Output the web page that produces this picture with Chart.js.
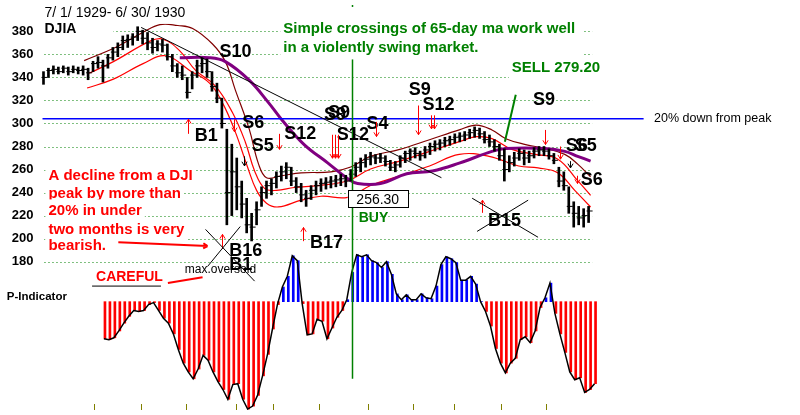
<!DOCTYPE html>
<html>
<head>
  <title>DJIA 1929-1930 Peerless</title>
  <script src="https://cdn.jsdelivr.net/npm/chart.js"></script>
  <style>
    body { margin: 0; background: #fff; }
    #wrap { width: 800px; height: 415px; }
  </style>
</head>
<body>
  <div id="wrap"><canvas id="myChart"></canvas></div>
  <script>
    // one bar every ~2 trading days, 7/1/1929 (index 0) .. 6/30/1930 (index 110)
    const highs = [345,348,350,349,350,349,350,349,350,348, 354,358,355,360,366,370,376,377,378,384,
                   381,379,374,372,373,369,360,352,350,340, 345,355,357,356,345,335,322,295,282,270,
                   250,235,222,232,245,250,252,258,263,266, 262,253,248,242,246,250,252,253,254,255,
                   256,255,260,266,270,273,275,273,274,272, 268,267,272,276,278,279,276,280,283,285,
                   286,288,289,291,292,293,295,297,296,293, 290,286,282,278,272,275,278,277,276,279,
                   280,280,278,274,262,258,245,232,228,226, 228];
    const lows  = [334,340,343,343,344,342,344,343,342,338, 345,348,336,348,355,358,364,366,368,372,
                   369,364,361,363,362,355,345,340,338,322, 330,340,344,340,328,318,296,212,220,225,
                   218,205,198,212,228,235,238,244,250,252, 246,240,232,228,234,238,241,243,244,245,
                   246,245,250,254,258,262,264,265,266,263, 259,258,262,266,268,270,268,270,273,276,
                   277,280,281,283,284,285,287,288,287,283, 280,276,268,250,258,263,268,264,266,270,
                   272,272,269,265,245,242,222,210,212,210, 214];
    const closes = [340,346,347,345,348,345,347,346,347,344, 352,353,350,357,362,366,372,373,375,380,
                    374,370,366,369,368,358,350,344,342,327, 342,350,352,345,332,322,300,240,258,245,
                    230,212,210,225,240,246,248,254,258,262, 250,245,238,235,242,246,248,249,250,251,
                    252,250,256,262,266,269,271,270,270,267, 262,264,270,274,276,274,272,277,280,282,
                    283,285,286,288,289,290,292,294,291,286, 284,280,272,260,266,270,274,270,272,276,
                    277,276,272,268,250,246,228,222,218,220, 224];

    // envelope lines and 65-day ma: [bar index, price]
    const bandUpper = [[8.0,354.6],[14.5,366.4],[19.9,379.2],[23.3,385.9],[26.9,385.1],[29.9,382.5],
                       [33.9,369.0],[36.5,353.7],[38.5,329.2],[41.3,295.3],[43.2,264.7],[44.8,252.9],
                       [47.8,254.6],[51.8,257.1],[57.8,258.0],[61.8,262.2],[65.8,271.5],[71.7,277.5],
                       [77.7,285.9],[83.7,294.4],[87.1,298.6],[90.3,294.4],[93.1,286.8],[97.1,281.7],
                       [101.0,278.3],[105.0,273.2],[107.6,264.7],[110.2,253.7]];
    const bandMiddle = [[9.0,343.6],[13.9,353.7],[21.3,371.5],[23.9,373.2],[27.3,363.1],[30.5,346.1],
                        [34.5,332.5],[37.9,309.7],[40.5,284.2],[42.4,258.8],[44.4,243.6],[46.8,241.9],
                        [50.4,244.4],[55.2,246.1],[61.2,250.3],[65.8,260.5],[71.7,267.3],[77.7,275.8],
                        [83.7,284.2],[87.1,288.5],[90.3,286.8],[94.3,277.5],[99.0,273.2],[103.6,269.0],
                        [107.6,250.3],[110.2,237.6]];
    const bandLower = [[8.6,330.8],[13.9,338.5],[19.9,352.0],[24.5,358.8],[29.3,346.1],[33.3,335.1],
                       [35.9,318.1],[38.5,292.7],[40.9,263.1],[42.8,241.9],[44.8,230.8],[47.2,227.5],
                       [51.8,233.4],[55.8,236.8],[61.2,235.9],[65.8,246.1],[71.7,254.6],[77.7,263.1],
                       [83.7,273.2],[89.7,271.5],[95.7,263.1],[99.6,261.4],[103.6,257.1],[107.0,241.9],
                       [110.2,227.5]];
    const ma65 = [[27.3,357.1],[33.3,357.1],[36.5,353.7],[41.3,337.6],[45.2,318.1],[47.8,303.7],
                  [52.4,281.7],[57.2,265.6],[61.2,252.0],[63.2,247.8],[67.8,247.8],[73.1,256.3],
                  [78.3,258.8],[83.7,265.6],[90.3,275.8],[93.1,278.3],[101.0,278.3],[105.0,275.8],
                  [107.6,271.5],[110.2,267.3]];
    const trendLine = [[19.5,383.4],[80.1,252.9]];
    const downFromPeak = 304;

    // P-Indicator, bars from index 12 to 111
    const pStart = 12;
    const pIndicator = [-38,-39,-37,-30,-22,-15,-9,-10,-9,-3, -1,-9,-17,-22,-33,-49,-63,-72,-79,-69,
                        -55,-60,-72,-82,-90,-100,-85,-84,-100,-110, -107,-96,-76,-54,-28,-3,15,26,47,42,
                        -2,-34,-33,-18,-20,-38,-27,-16,-9,2, 30,48,46,48,42,40,35,41,28,8,
                        2,7,2,2,8,4,3,16,38,46, 44,40,22,22,26,18,0,-10,-25,-48,
                        -63,-73,-63,-58,-39,-36,-42,-30,-6,4, 19,-12,-33,-52,-72,-80,-78,-93,-90,-84];

    const priceTicks = [380,360,340,320,300,280,260,240,220,200,180];
    const monthTicks = [10,19.5,28.5,38.7,46.2,55.4,65.2,74.3,82.7,92.1,101.2];
    const buyIndex = 62;

    // signal labels [text, index, price]
    const signals = [['S10',35.3,362.2],['B1',30.3,289.3],['S6',39.9,300.3],['S5',41.8,280.0],
                     ['S12',48.4,291.0],['S9',56.4,307.1],['S9',57.2,308.8],['S12',59.0,290.2],
                     ['S4',65.0,299.5],['S9',73.5,329.2],['S12',76.3,315.6],['S9',98.6,320.7],
                     ['S6',105.2,280.0],['S5',107.0,280.8],['S6',108.2,251.2],['B15',89.5,215.6],
                     ['B17',53.6,196.1],['B16',37.3,189.3],['B1',37.3,177.5]];
    // signal arrows [index, tail price, head price, count, colour]
    const arrows = [[28.9,291.0,303.7,1,'#f00'],[38.3,303.7,292.7,1,'#f00'],[47.4,291.0,277.5,1,'#f00'],
                    [58.0,290.2,269.8,3,'#f00'],[66.8,301.4,288.6,1,'#f00'],[75.3,315.6,290.2,1,'#f00'],
                    [78.0,307.1,295.3,2,'#f00'],[101.0,294.4,281.7,1,'#f00'],[104.0,280.0,269.0,1,'#f00'],
                    [52.2,197.8,209.7,1,'#f00'],[88.3,222.4,233.4,1,'#f00'],[35.9,191.0,203.7,1,'#f00'],
                    [40.3,271.5,263.1,1,'#000'],[106.0,267.3,261.4,1,'#000'],[107.4,254.6,247.8,1,'#f00']];

    const FONT = '"Liberation Sans", Arial, sans-serif';
    const notes = [
      {t:'7/ 1/ 1929- 6/ 30/ 1930', i:0, p:396.1, f:'14px', c:'#000', bg:true},
      {t:'DJIA', i:0, p:381.7, f:'bold 14px', c:'#000', bg:true, boxTo:13.9},
      {t:'Simple crossings of 65-day ma work well', i:48.2, p:382.5, f:'bold 15px', c:'#008000', bg:true, boxTo:108.6, padTop:10},
      {t:'in a violently swing market.', i:48.2, p:365.6, f:'bold 15px', c:'#008000', bg:true, boxTo:108.6},
      {t:'SELL 279.20', i:94.3, p:348.6, f:'bold 15px', c:'#008000', bg:true},
      {t:'20% down from peak', i:123.0, p:304.6, f:'12.5px', c:'#000'},
      {t:'A decline from a DJI', i:0.8, p:254.6, f:'bold 15px', c:'#f00', bg:true},
      {t:'peak by more than', i:0.8, p:239.3, f:'bold 15px', c:'#f00', bg:true},
      {t:'20% in under', i:0.8, p:224.1, f:'bold 15px', c:'#f00', bg:true},
      {t:'two months is very', i:0.8, p:208.0, f:'bold 15px', c:'#f00', bg:true},
      {t:'bearish.', i:0.8, p:193.6, f:'bold 15px', c:'#f00', bg:true},
      {t:'CAREFUL', i:10.4, p:166.4, f:'bold 14px', c:'#f00', bg:true},
      {t:'max.oversold', i:28.3, p:173.2, f:'12px', c:'#000'},
      {t:'P-Indicator', i:-7.6, p:149.5, f:'bold 11.5px', c:'#000'},
      {t:'BUY', i:66.4, p:218.1, f:'bold 14px', c:'#008000', align:'center'}
    ];
    // thin annotation lines [i1, p1, i2, p2, colour, width, arrowhead]
    const strokes = [[32.5,208.0,42.4,163.1,'#000',1,false],[39.5,210.5,32.9,175.8,'#000',1,false],
                     [86.3,235.1,99.6,201.2,'#000',1,false],[87.3,206.3,97.6,233.4,'#000',1,false],
                     [92.9,284.2,95.1,324.9,'#008000',2,false],[14.9,196.9,32.9,193.6,'#f00',2,true],
                     [24.9,161.4,31.9,166.4,'#f00',2,false],[9.6,158.8,23.5,158.8,'#000',1,false]];
    const buyBox = {t:'256.30', i1:61.2, i2:73.3, p1:241.9, p2:227.5};

    function arrowLine(ctx, x1, y1, x2, y2, color, w, head) {
      ctx.strokeStyle = color; ctx.lineWidth = w;
      ctx.beginPath(); ctx.moveTo(x1, y1); ctx.lineTo(x2, y2);
      if (head) {
        const a = Math.atan2(y2 - y1, x2 - x1), h = 5;
        ctx.moveTo(x2, y2); ctx.lineTo(x2 - h * Math.cos(a - 0.55), y2 - h * Math.sin(a - 0.55));
        ctx.moveTo(x2, y2); ctx.lineTo(x2 - h * Math.cos(a + 0.55), y2 - h * Math.sin(a + 0.55));
      }
      ctx.stroke();
    }

    const peerless = {
      id: 'peerless',
      beforeDatasetsDraw(chart) {
        const ctx = chart.ctx, X = v => chart.scales.x.getPixelForValue(v), Y = v => chart.scales.y.getPixelForValue(v);
        ctx.save();
        ctx.strokeStyle = '#008000'; ctx.lineWidth = 1; ctx.setLineDash([1, 3]);
        priceTicks.forEach(t => {
          const y = Math.round(Y(t)) + 0.5;
          ctx.beginPath(); ctx.moveTo(X(0), y); ctx.lineTo(X(110.6), y); ctx.stroke();
        });
        ctx.setLineDash([]);
        ctx.strokeStyle = '#808000';
        monthTicks.forEach(m => {
          const x = Math.round(X(m)) + 0.5;
          ctx.beginPath(); ctx.moveTo(x, chart.chartArea.bottom - 6); ctx.lineTo(x, chart.chartArea.bottom); ctx.stroke();
        });
        ctx.font = 'bold 13px ' + FONT; ctx.fillStyle = '#000'; ctx.textBaseline = 'middle'; ctx.textAlign = 'left';
        priceTicks.forEach(t => ctx.fillText(String(t), X(-6.6), Y(t)));
        ctx.restore();
      },
      afterDatasetsDraw(chart) {
        const ctx = chart.ctx, X = v => chart.scales.x.getPixelForValue(v), Y = v => chart.scales.y.getPixelForValue(v);
        ctx.save();
        // buy day marker
        const bx = Math.round(X(buyIndex)) + 0.5;
        ctx.strokeStyle = '#008000'; ctx.lineWidth = 1.5;
        ctx.beginPath(); ctx.moveTo(bx, chart.chartArea.top); ctx.lineTo(bx, Y(78.3)); ctx.stroke();
        // text notes
        ctx.textBaseline = 'middle';
        notes.forEach(n => {
          ctx.font = n.f + ' ' + FONT; ctx.textAlign = n.align || 'left';
          const x = X(n.i), y = Y(n.p), w = ctx.measureText(n.t).width;
          const size = parseFloat(n.f.match(/([\d.]+)px/)[1]);
          if (n.bg) {
            const right = n.boxTo !== undefined ? X(n.boxTo) : x + w + 3;
            const extra = n.padTop || 0;
            ctx.fillStyle = '#fff';
            ctx.fillRect(x - 3, y - size / 2 - 4 - extra, right - x + 3, size + 8 + extra);
          }
          ctx.fillStyle = n.c; ctx.fillText(n.t, x, y);
        });
        // price box for the buy
        const l = X(buyBox.i1), r = X(buyBox.i2), t = Y(buyBox.p1), b = Y(buyBox.p2);
        ctx.fillStyle = '#fff'; ctx.fillRect(l, t, r - l, b - t);
        ctx.strokeStyle = '#000'; ctx.lineWidth = 1; ctx.strokeRect(Math.round(l) + 0.5, Math.round(t) + 0.5, Math.round(r - l), Math.round(b - t));
        ctx.font = '14px ' + FONT; ctx.fillStyle = '#000'; ctx.textAlign = 'center';
        ctx.fillText(buyBox.t, (l + r) / 2, (t + b) / 2 + 1);
        // signal labels
        ctx.font = 'bold 18px ' + FONT; ctx.textAlign = 'left';
        signals.forEach(s => ctx.fillText(s[0], X(s[1]), Y(s[2])));
        // signal arrows
        arrows.forEach(a => {
          for (let k = 0; k < a[3]; k++) {
            const x = Math.round(X(a[0])) + 0.5 + k * 3;
            arrowLine(ctx, x, Y(a[1]), x, Y(a[2]), a[4], 1, true);
          }
        });
        strokes.forEach(s => arrowLine(ctx, X(s[0]), Y(s[1]), X(s[2]), Y(s[3]), s[4], s[5], s[6]));
        ctx.restore();
      }
    };

    const xy = arr => arr.map(([x, y]) => ({x, y}));
    const pData = pIndicator.map((v, k) => ({x: k + pStart, y: v}));

    const chartConfig = {
      type: 'bar',
      data: {
        datasets: [
          { label: 'P-Indicator', data: pData, yAxisID: 'y2', barThickness: 2,
            backgroundColor: pIndicator.map(v => v >= 0 ? '#0000ff' : '#ff0000'), order: 10 },
          { type: 'line', label: 'P-Indicator line', data: pData, yAxisID: 'y2', borderColor: '#000',
            borderWidth: 1.5, pointRadius: 0, tension: 0, order: 9 },
          { type: 'line', label: 'upper band', data: xy(bandUpper), borderColor: '#800000',
            borderWidth: 1.2, pointRadius: 0, tension: 0.4, order: 8 },
          { type: 'line', label: 'middle band', data: xy(bandMiddle), borderColor: '#ff0000',
            borderWidth: 1.2, pointRadius: 0, tension: 0.4, order: 8 },
          { type: 'line', label: 'lower band', data: xy(bandLower), borderColor: '#ff0000',
            borderWidth: 1.2, pointRadius: 0, tension: 0.4, order: 8 },
          { type: 'line', label: '65-day ma', data: xy(ma65), borderColor: '#800080',
            borderWidth: 3, pointRadius: 0, tension: 0.4, order: 6 },
          { type: 'line', label: 'trend', data: xy(trendLine), borderColor: '#000',
            borderWidth: 1, pointRadius: 0, order: 5 },
          { type: 'line', label: '20% down', data: [{x: -0.4, y: downFromPeak}, {x: 120.9, y: downFromPeak}],
            borderColor: '#0000ff', borderWidth: 1.5, pointRadius: 0, order: 5 },
          { label: 'DJIA', data: highs.map((h, k) => ({x: k, y: [lows[k], h]})), backgroundColor: '#000',
            barThickness: 2, order: 2 },
          { type: 'line', label: 'close', data: closes.map((c, k) => ({x: k, y: c})), showLine: false,
            pointStyle: 'line', pointRadius: 3, pointBorderColor: '#000', pointBorderWidth: 1, order: 1 }
        ]
      },
      options: {
        responsive: true,
        maintainAspectRatio: false,
        animation: false,
        layout: { padding: 0 },
        plugins: { legend: { display: false }, tooltip: { enabled: false } },
        scales: {
          x: { type: 'linear', display: false, offset: false, min: -7.97, max: 151.45 },
          y: { type: 'linear', display: false, min: 51.19, max: 402.88 },
          y2: { type: 'linear', display: false, min: -111, max: 304 }
        }
      },
      plugins: [peerless]
    };
    const myChart = new Chart(document.getElementById('myChart'), chartConfig);
  </script>
</body>
</html>
